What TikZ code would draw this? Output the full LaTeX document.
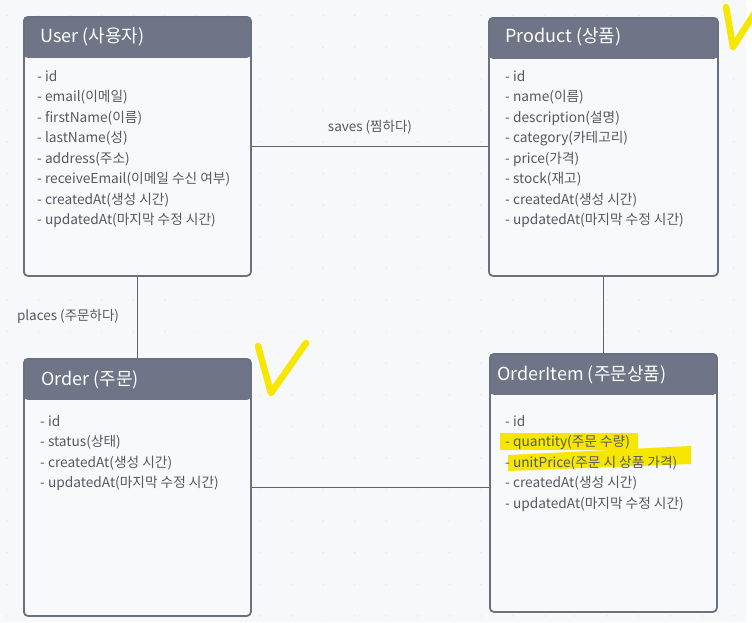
\documentclass[tikz,border=0pt]{standalone}
\usepackage{fontspec}
\setmainfont{Noto Sans CJK KR}
\definecolor{bg}{HTML}{F7F8FA}
\definecolor{dotc}{HTML}{E9EBEE}
\definecolor{boxline}{HTML}{6B7080}
\definecolor{hdr}{HTML}{6F7586}
\definecolor{boxfill}{HTML}{F8F9FB}
\definecolor{txt}{HTML}{555963}
\definecolor{conn}{HTML}{5E6370}
\definecolor{hl}{HTML}{F6E600}
\tikzset{
  entity/.style={draw=boxline, line width=1.8pt, fill=boxfill, rounded corners=4pt,
    inner sep=0pt, anchor=north west,
    path picture={\fill[hdr] ([yshift=2pt]path picture bounding box.north west) rectangle ([yshift=-41pt]path picture bounding box.north east);}},
  title/.style={anchor=west, inner sep=0pt, text=white, font=\fontsize{18}{20}\selectfont},
  body/.style={anchor=north west, inner sep=0pt, align=left, text=txt, font=\fontsize{13.7}{20.5}\selectfont},
  lbl/.style={inner sep=0pt, text=txt, font=\fontsize{13.5}{16}\selectfont},
  connector/.style={draw=conn, line width=1.8pt},
  checkmark/.style={draw=hl, line width=6.5pt, line cap=round, line join=round},
}
\begin{document}
\begin{tikzpicture}[x=1pt,y=-1pt]
\fill[bg] (0,0) rectangle (752,622);
\fill[white] (746,0) rectangle (752,622);
\useasboundingbox (0,0) rectangle (752,622);
\foreach \i in {0,...,23} {
  \foreach \j in {0,...,19} {
    \fill[dotc] (7+31.6*\i, 15.5+31.6*\j) circle (0.9pt);
  }
}
% entities
\node[entity, minimum width=227pt, minimum height=259pt] (user) at (23,16) {};
\node[entity, minimum width=229pt, minimum height=258pt] (product) at (488,17) {};
\node[entity, minimum width=227pt, minimum height=257pt] (order) at (23,358) {};
\node[entity, minimum width=227pt, minimum height=258pt] (item) at (489,353) {};
% connectors
\draw[connector] (user.east) -- (user.east -| product.west);
\draw[connector] (user.south) -- (order.north);
\draw[connector] (product.south) -- (item.north);
\draw[connector] (order.east) -- (order.east -| item.west);
% labels
\node[lbl] (saveslbl) at (370,127) {saves (찜하다)};
\node[lbl] (placeslbl) at (68,316) {places (주문하다)};
% titles
\node[title] (usert) at (40,37) {User (사용자)};
\node[title] (productt) at (505,37) {Product (상품)};
\node[title] (ordert) at (41,380) {Order (주문)};
\node[title] (itemt) at (497,375) {OrderItem (주문상품)};
% highlights
\fill[hl] (500,433) rectangle (638,450);
\fill[hl] (508,455) -- (691,446) -- (691,464) -- (508,471) -- cycle;
% bodies
\node[body] (userb) at (37,66.5) {\strut- id\\- email(이메일)\\- firstName(이름)\\- lastName(성)\\- address(주소)\\- receiveEmail(이메일 수신 여부)\\- createdAt(생성 시간)\\- updatedAt(마지막 수정 시간)};
\node[body] (productb) at (505,66.5) {\strut- id\\- name(이름)\\- description(설명)\\- category(카테고리)\\- price(가격)\\- stock(재고)\\- createdAt(생성 시간)\\- updatedAt(마지막 수정 시간)};
\node[body] (orderb) at (40,411.5) {\strut- id\\- status(상태)\\- createdAt(생성 시간)\\- updatedAt(마지막 수정 시간)};
\node[body] (itemb) at (505,411.5) {\strut- id\\- quantity(주문 수량)\\- unitPrice(주문 시 상품 가격)\\- createdAt(생성 시간)\\- updatedAt(마지막 수정 시간)};
% check marks
\draw[checkmark] (258,346) -- (271,393) -- (306,343);
\draw[checkmark] (726,7) -- (733,47) -- (754,14);
\end{tikzpicture}
\end{document}
